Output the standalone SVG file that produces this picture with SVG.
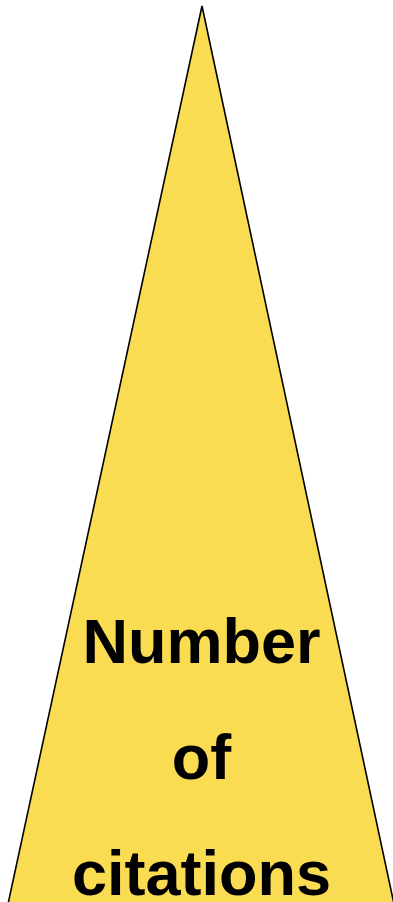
<svg xmlns="http://www.w3.org/2000/svg" width="393" height="902" viewBox="0 0 393 902">
<style>
.tri{fill:#F9DC52;stroke:#000;stroke-width:1.6;stroke-linejoin:miter}
.lbl{font-family:"Liberation Sans",Arial,sans-serif;font-weight:bold;font-size:63px;fill:#000;text-anchor:middle}
</style>
<rect width="393" height="902" fill="#fff"/>
<g id="triangle">
<polygon class="tri" points="202,6 8,904 394,904"/>
<text class="lbl" x="201.5" y="663">Number</text>
<text class="lbl" x="201.5" y="779">of</text>
<text class="lbl" x="201.5" y="895">citations</text>
</g>
</svg>
